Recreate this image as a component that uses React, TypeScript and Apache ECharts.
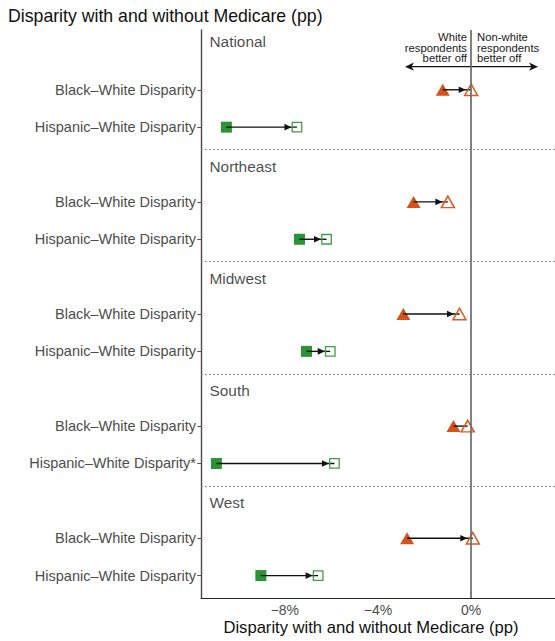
import React, { useEffect, useRef } from "react";
import * as echarts from "echarts";

const regions = ["National", "Northeast", "Midwest", "South", "West"];
const blackWhiteLabels = [
  "Black–White Disparity",
  "Black–White Disparity",
  "Black–White Disparity",
  "Black–White Disparity",
  "Black–White Disparity",
];
const hispanicWhiteLabels = [
  "Hispanic–White Disparity",
  "Hispanic–White Disparity",
  "Hispanic–White Disparity",
  "Hispanic–White Disparity*",
  "Hispanic–White Disparity",
];
// disparity (pp) without Medicare (filled) and with Medicare (open)
const bwWithout = [-1.22, -2.47, -2.91, -0.76, -2.75];
const bwWith = [0.0, -1.0, -0.5, -0.15, 0.07];
const hwWithout = [-10.51, -7.37, -7.07, -10.94, -9.03];
const hwWith = [-7.48, -6.21, -6.05, -5.87, -6.57];
const xTicks = [-8, -4, 0];
const xTickLabels = ["−8%", "−4%", "0%"];

const FONT = "Liberation Sans, Arial, Helvetica, sans-serif";

// layout of rows along a hidden continuous y scale (3 slots per region)
const rowY = (g: number, r: number) => Math.round((3 * g + 1.6 + r) * 100) / 100;
const groupLabelY = (g: number) => (g === 0 ? 0.31 : 3 * g + 0.64);
const separatorY = (g: number) => 3 * g + 3.2;

export default function App() {
  const ref = useRef<HTMLDivElement>(null);
  useEffect(() => {
    if (!ref.current) return;
    const chart = echarts.init(ref.current, undefined, { renderer: "svg" });

    const labelMap: Record<string, string> = {};
    const rowValues: number[] = [];
    regions.forEach((_, g) => {
      labelMap[String(Math.round(rowY(g, 0) * 10))] = blackWhiteLabels[g];
      labelMap[String(Math.round(rowY(g, 1) * 10))] = hispanicWhiteLabels[g];
      rowValues.push(rowY(g, 0), rowY(g, 1));
    });

    const arrowData: number[][] = [];
    regions.forEach((_, g) => {
      arrowData.push([bwWithout[g], bwWith[g], rowY(g, 0)]);
      arrowData.push([hwWithout[g], hwWith[g], rowY(g, 1)]);
    });

    const option: any = {
      animation: false,
      grid: { left: 201, right: 0, top: 30, bottom: 43, containLabel: false },
      xAxis: {
        type: "value",
        position: "bottom",
        min: -11.6,
        max: 3.6,
        splitLine: { show: false },
        axisTick: { show: false },
        axisLine: { show: true, onZero: false, lineStyle: { color: "#222", width: 1 } },
        axisLabel: {
          customValues: xTicks,
          formatter: (v: number) => xTickLabels[xTicks.indexOf(v)] ?? "",
          fontFamily: FONT,
          fontSize: 14,
          color: "#4d4d4d",
          margin: 5,
        },
      },
      yAxis: {
        type: "value",
        inverse: true,
        min: 0,
        max: 15.2,
        splitLine: { show: false },
        axisLine: { show: true, onZero: false, lineStyle: { color: "#4a4a4a", width: 1.4 } },
        axisTick: {
          show: true,
          customValues: rowValues,
          length: 3.7,
          lineStyle: { color: "#555", width: 1 },
        },
        axisLabel: {
          customValues: rowValues,
          formatter: (v: number) => labelMap[String(Math.round(v * 10))] ?? "",
          fontFamily: FONT,
          fontSize: 14.5,
          color: "#4d4d4d",
          margin: 5,
        },
      },
      series: [
        {
          type: "scatter",
          name: "groups",
          z: 1,
          silent: true,
          symbolSize: 1,
          itemStyle: { color: "rgba(0,0,0,0)" },
          data: regions.map((r, g) => ({ value: [-11.6, groupLabelY(g)], name: r })),
          label: {
            show: true,
            position: "right",
            distance: 8,
            formatter: (p: any) => p.name,
            fontFamily: FONT,
            fontSize: 15.4,
            color: "#1a1a1a",
          },
          markLine: {
            silent: true,
            symbol: ["none", "none"],
            label: { show: false },
            animation: false,
            data: [
              { xAxis: 0, lineStyle: { color: "#6b6b6b", width: 1.7, type: "solid" } },
              ...regions.slice(0, -1).map((_, g) => ({
                yAxis: separatorY(g),
                lineStyle: { color: "#8c8c8c", width: 1, type: [2, 2] },
              })),
            ],
          },
        },
        {
          type: "scatter",
          name: "Black–White without Medicare",
          z: 2,
          symbol: "triangle",
          symbolSize: [14, 12],
          itemStyle: { color: "#d2531c", opacity: 1 },
          data: regions.map((_, g) => [bwWithout[g], rowY(g, 0)]),
        },
        {
          type: "scatter",
          name: "Hispanic–White without Medicare",
          z: 2,
          symbol: "rect",
          symbolSize: 11,
          itemStyle: { color: "#2c9336", opacity: 1 },
          data: regions.map((_, g) => [hwWithout[g], rowY(g, 1)]),
        },
        {
          type: "scatter",
          name: "Black–White with Medicare",
          z: 4,
          symbol: "triangle",
          symbolSize: [13, 11.5],
          itemStyle: { color: "rgba(0,0,0,0)", borderColor: "#d95a22", borderWidth: 1.5, opacity: 1 },
          data: regions.map((_, g) => [bwWith[g], rowY(g, 0)]),
        },
        {
          type: "scatter",
          name: "Hispanic–White with Medicare",
          z: 4,
          symbol: "rect",
          symbolSize: 9.5,
          itemStyle: { color: "rgba(0,0,0,0)", borderColor: "#3ea044", borderWidth: 1.3, opacity: 1 },
          data: regions.map((_, g) => [hwWith[g], rowY(g, 1)]),
        },
        {
          type: "custom",
          name: "arrows",
          z: 3,
          silent: true,
          encode: { x: [0, 1], y: 2 },
          data: arrowData,
          renderItem: (params: any, api: any) => {
            const y = api.value(2);
            const a = api.coord([api.value(0), y]);
            const b = api.coord([api.value(1), y]);
            const children: any[] = [
              {
                type: "line",
                shape: { x1: a[0], y1: a[1], x2: b[0], y2: b[1] },
                style: { stroke: "#111", lineWidth: 1.4 },
              },
            ];
            if (b[0] - a[0] > 16) {
              const tip = b[0] - 5.5;
              children.push({
                type: "polygon",
                shape: {
                  points: [
                    [tip, b[1]],
                    [tip - 7, b[1] - 3.3],
                    [tip - 7, b[1] + 3.3],
                  ],
                },
                style: { fill: "#111" },
              });
            }
            return { type: "group", children };
          },
        },
      ],
      graphic: [
        {
          type: "text",
          x: 8,
          y: 16,
          style: {
            text: "Disparity with and without Medicare (pp)",
            fontFamily: FONT,
            fontSize: 17.7,
            fill: "#111",
            align: "left",
            verticalAlign: "middle",
          },
        },
        {
          type: "text",
          x: 371,
          y: 627,
          style: {
            text: "Disparity with and without Medicare (pp)",
            fontFamily: FONT,
            fontSize: 16.6,
            fill: "#111",
            align: "center",
            verticalAlign: "middle",
          },
        },
        {
          type: "text",
          x: 467,
          y: 31.5,
          style: {
            text: "White\nrespondents\nbetter off",
            fontFamily: FONT,
            fontSize: 11.3,
            lineHeight: 10.7,
            fill: "#1a1a1a",
            align: "right",
            verticalAlign: "top",
          },
        },
        {
          type: "text",
          x: 477,
          y: 31.5,
          style: {
            text: "Non-white\nrespondents\nbetter off",
            fontFamily: FONT,
            fontSize: 11.3,
            lineHeight: 10.7,
            fill: "#1a1a1a",
            align: "left",
            verticalAlign: "top",
          },
        },
        {
          type: "line",
          shape: { x1: 410, y1: 66.7, x2: 533, y2: 66.7 },
          style: { stroke: "#111", lineWidth: 1.2 },
        },
        {
          type: "polygon",
          shape: { points: [[405, 66.7], [414, 62.6], [411.5, 66.7], [414, 70.8]] },
          style: { fill: "#111" },
        },
        {
          type: "polygon",
          shape: { points: [[538, 66.7], [529, 62.6], [531.5, 66.7], [529, 70.8]] },
          style: { fill: "#111" },
        },
      ],
    };
    chart.setOption(option);
    return () => chart.dispose();
  }, []);

  return (
    <div
      ref={ref}
      style={{ position: "absolute", left: 0, top: 0, width: 555, height: 641, background: "#fff" }}
    />
  );
}
